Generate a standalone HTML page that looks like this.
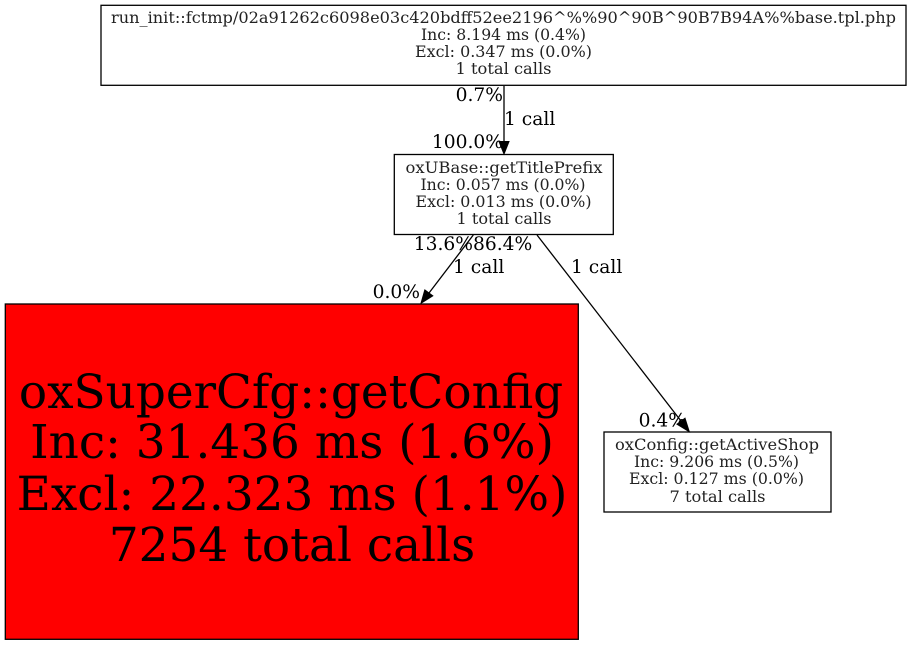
<!DOCTYPE html>
<html><head><meta charset="utf-8">
<style>html,body{margin:0;padding:0;background:#fff}svg{display:block}text{font-family:"DejaVu Serif",serif;fill:#000}.s text{fill:#222}</style>
</head><body>
<svg width="912" height="645" viewBox="0 0 912 645" xmlns="http://www.w3.org/2000/svg">
<rect x="0" y="0" width="912" height="645" fill="#fff"/>
<rect x="101" y="5.3" width="805" height="80" fill="#fff" stroke="#000" stroke-width="1.3"/>
<g class="s" font-size="16" text-anchor="middle">
<text x="503.5" y="23" textLength="785" lengthAdjust="spacingAndGlyphs">run_init::fctmp/02a91262c6098e03c420bdff52ee2196^%%90^90B^90B7B94A%%base.tpl.php</text>
<text x="503.5" y="40" textLength="165" lengthAdjust="spacingAndGlyphs">Inc: 8.194 ms (0.4%)</text>
<text x="503.5" y="57" textLength="177" lengthAdjust="spacingAndGlyphs">Excl: 0.347 ms (0.0%)</text>
<text x="503.5" y="74" textLength="96" lengthAdjust="spacingAndGlyphs">1 total calls</text>
</g>
<rect x="394.3" y="154.5" width="219" height="80" fill="#fff" stroke="#000" stroke-width="1.3"/>
<g class="s" font-size="16" text-anchor="middle">
<text x="504" y="173" textLength="197" lengthAdjust="spacingAndGlyphs">oxUBase::getTitlePrefix</text>
<text x="503" y="190" textLength="165" lengthAdjust="spacingAndGlyphs">Inc: 0.057 ms (0.0%)</text>
<text x="503.5" y="207" textLength="176" lengthAdjust="spacingAndGlyphs">Excl: 0.013 ms (0.0%)</text>
<text x="504" y="224" textLength="95" lengthAdjust="spacingAndGlyphs">1 total calls</text>
</g>
<rect x="5.3" y="304" width="573" height="335.3" fill="#f00" stroke="#000" stroke-width="1.3"/>
<g font-size="46.9" text-anchor="middle">
<text x="291" y="408">oxSuperCfg::getConfig</text>
<text x="292" y="458">Inc: 31.436 ms (1.6%)</text>
<text x="292" y="510">Excl: 22.323 ms (1.1%)</text>
<text x="292" y="561">7254 total calls</text>
</g>
<rect x="604" y="432" width="227" height="80" fill="#fff" stroke="#000" stroke-width="1.3"/>
<g class="s" font-size="16" text-anchor="middle">
<text x="717" y="450" textLength="204" lengthAdjust="spacingAndGlyphs">oxConfig::getActiveShop</text>
<text x="716.5" y="467" textLength="165" lengthAdjust="spacingAndGlyphs">Inc: 9.206 ms (0.5%)</text>
<text x="716.5" y="484" textLength="175" lengthAdjust="spacingAndGlyphs">Excl: 0.127 ms (0.0%)</text>
<text x="717.5" y="502" textLength="96" lengthAdjust="spacingAndGlyphs">7 total calls</text>
</g>
<g fill="none" stroke="#000" stroke-width="1.3">
<path d="M504 86 L504 142"/>
<path d="M473.3 235 L429 293"/>
<path d="M537 235 L681 421"/>
</g>
<g fill="#000" stroke="#000" stroke-width="1">
<polygon points="499,141.5 509,141.5 504,154"/>
<polygon points="424.8,289.9 432.8,295.9 421,303.3"/>
<polygon points="677,424.2 685,418.2 689.3,431.7"/>
</g>
<g font-size="18.67">
<text x="503" y="101" text-anchor="end">0.7%</text>
<text x="504" y="125">1 call</text>
<text x="503" y="148" text-anchor="end">100.0%</text>
<text x="473" y="250" text-anchor="end">13.6%</text>
<text x="473" y="250">86.4%</text>
<text x="453" y="273">1 call</text>
<text x="571" y="273">1 call</text>
<text x="420" y="298" text-anchor="end">0.0%</text>
<text x="686" y="426.5" text-anchor="end">0.4%</text>
</g>
</svg>
</body></html>
